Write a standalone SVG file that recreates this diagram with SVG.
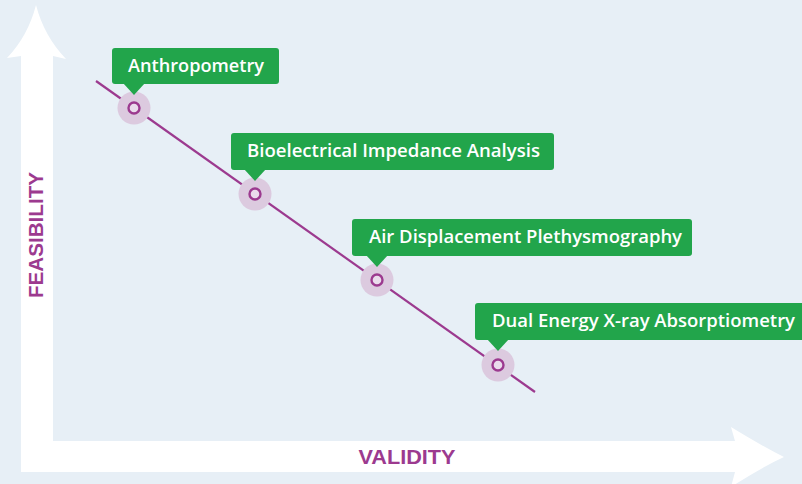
<svg xmlns="http://www.w3.org/2000/svg" width="802" height="484" viewBox="0 0 802 484">
  <defs>
    <style>
      .bg { fill: #e7eff6; }
      .axis { fill: #ffffff; }
      .axislabel { font-family: "Liberation Sans", Arial, sans-serif; font-weight: bold; font-size: 20px; fill: #9c3a8f; }
      .tag { fill: #22a54b; }
      .tagtext { font-family: "Open Sans", "DejaVu Sans", sans-serif; font-weight: 600; font-size: 18px; fill: #ffffff; }
      .trend { stroke: #9c3a8f; stroke-width: 2.2; fill: none; }
      .halo { fill: #dccadf; }
      .dot { fill: #eadcec; stroke: #9c3a8f; stroke-width: 2.4; }
    </style>
  </defs>
  <rect class="bg" x="0" y="0" width="802" height="484"/>

  <g id="axes">
    <path class="axis" d="M21,472 L21,56 L7,58 Q28,36 36,5 Q44,36 66,59 L53,56 L53,441 L735,441 L731,427 Q762,446 784,457 Q762,467 731,487 L735,472 Z"/>
    <text class="axislabel" x="407" y="464" text-anchor="middle" textLength="97" lengthAdjust="spacingAndGlyphs">VALIDITY</text>
    <text class="axislabel" transform="translate(43,235) rotate(-90)" x="0" y="0" text-anchor="middle" textLength="126" lengthAdjust="spacingAndGlyphs">FEASIBILITY</text>
  </g>

  <g id="connectors">
    <line class="trend" x1="96" y1="81" x2="535" y2="392"/>
  </g>

  <g id="node-anthropometry">
    <circle class="halo" cx="134" cy="108" r="16.5"/>
    <circle class="dot" cx="134" cy="108" r="5.5"/>
    <rect class="tag" x="112" y="48" width="167" height="36" rx="3"/>
    <path class="tag" d="M123,83 L145,83 L134,95 Z"/>
    <text class="tagtext" x="128" y="72" textLength="136" lengthAdjust="spacingAndGlyphs">Anthropometry</text>
  </g>

  <g id="node-bia">
    <circle class="halo" cx="255" cy="194" r="16.5"/>
    <circle class="dot" cx="255" cy="194" r="5.5"/>
    <rect class="tag" x="231" y="133" width="323" height="37" rx="3"/>
    <path class="tag" d="M244,169 L266,169 L255,181 Z"/>
    <text class="tagtext" x="247" y="157" textLength="293" lengthAdjust="spacingAndGlyphs">Bioelectrical Impedance Analysis</text>
  </g>

  <g id="node-adp">
    <circle class="halo" cx="377" cy="280" r="16.5"/>
    <circle class="dot" cx="377" cy="280" r="5.5"/>
    <rect class="tag" x="352" y="219" width="340" height="37" rx="3"/>
    <path class="tag" d="M366,255 L388,255 L377,267 Z"/>
    <text class="tagtext" x="369" y="243" textLength="313" lengthAdjust="spacingAndGlyphs">Air Displacement Plethysmography</text>
  </g>

  <g id="node-dexa">
    <circle class="halo" cx="498" cy="365" r="16.5"/>
    <circle class="dot" cx="498" cy="365" r="5.5"/>
    <rect class="tag" x="475" y="303" width="340" height="37" rx="3"/>
    <path class="tag" d="M487,339 L509,339 L498,351 Z"/>
    <text class="tagtext" x="492" y="327" textLength="303" lengthAdjust="spacingAndGlyphs">Dual Energy X-ray Absorptiometry</text>
  </g>
</svg>
